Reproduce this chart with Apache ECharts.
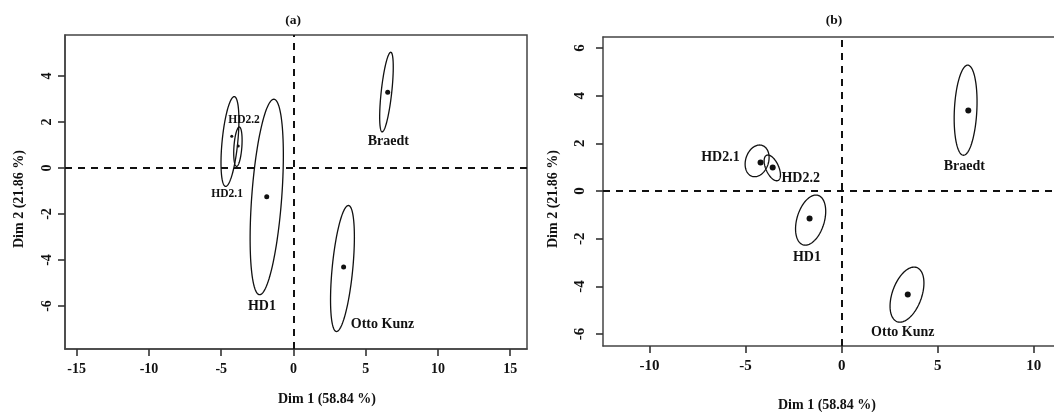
<!DOCTYPE html>
<html>
<head>
<meta charset="utf-8">
<script src="https://cdn.jsdelivr.net/npm/echarts@6/dist/echarts.min.js"></script>
<style>
html,body{margin:0;padding:0;background:#fff;}
#chart{width:1054px;height:412px;}
</style>
</head>
<body>
<div id="chart"></div>
<script>
// ---------- data ----------
const groups = ['Braedt', 'HD2.1', 'HD2.2', 'HD1', 'Otto Kunz'];

// panel (a): individual means
const aPointX = [6.52, -4.27, -3.82, -1.85, 3.47];
const aPointY = [3.29, 1.38, 0.95, -1.25, -4.30];
// panel (a): confidence ellipses (centre, top-point offset, half width)
const aEllCX = [6.435, -4.395, -3.845, -1.85, 3.39];
const aEllCY = [3.30, 1.15, 0.925, -1.26, -4.37];
const aEllAX = [0.295, 0.295, 0.095, 0.49, 0.41];
const aEllAY = [1.73, 1.95, 0.855, 4.25, 2.74];
const aEllBX = [0.366, 0.545, 0.274, 1.04, 0.716];
// panel (a): label anchors
const aLabelX = [6.56, -4.59, -3.42, -2.18, 6.16];
const aLabelY = [1.14, -1.14, 2.07, -6.02, -6.78];

// panel (b)
const bPointX = [6.59, -4.22, -3.59, -1.67, 3.44];
const bPointY = [3.38, 1.20, 0.99, -1.15, -4.34];
const bEllCX = [6.45, -4.40, -3.61, -1.615, 3.40];
const bEllCY = [3.39, 1.265, 0.97, -1.22, -4.345];
const bEllAX = [0.11, 0.13, -0.23, 0.275, 0.37];
const bEllAY = [1.89, 0.665, 0.54, 1.05, 1.155];
const bEllBX = [0.585, 0.61, 0.357, 0.735, 0.80];
const bLabelX = [6.38, -6.31, -2.13, -1.81, 3.18];
const bLabelY = [1.04, 1.43, 0.55, -2.77, -5.92];

// ticks
const aXTicks = [-15, -10, -5, 0, 5, 10, 15];
const aYTicks = [-6, -4, -2, 0, 2, 4];
const bXTicks = [-10, -5, 0, 5, 10];
const bYTicks = [-6, -4, -2, 0, 2, 4, 6];

const xTitle = 'Dim 1 (58.84 %)';
const yTitle = 'Dim 2 (21.86 %)';
const panelTitles = ['(a)', '(b)'];

// ---------- chart ----------
const FONT = "'Liberation Serif', 'DejaVu Serif', serif";
const INK = '#111';
const BOX = { color: '#444', width: 1.5 };

function xAxis(gi, min, max, ticks, fs) {
  return {
    gridIndex: gi, type: 'value', min: min, max: max,
    splitLine: { show: false },
    axisLine: { show: true, onZero: false, lineStyle: BOX },
    axisTick: { show: true, customValues: ticks, length: 7, lineStyle: { color: '#333', width: 1.6 } },
    axisLabel: { customValues: ticks, margin: 13, fontSize: fs, fontWeight: 'bold', fontFamily: FONT, color: INK }
  };
}
function yAxis(gi, min, max, ticks, fs, margin) {
  return {
    gridIndex: gi, type: 'value', min: min, max: max,
    splitLine: { show: false },
    axisLine: { show: true, onZero: false, lineStyle: BOX },
    axisTick: { show: true, customValues: ticks, length: 7, lineStyle: { color: '#333', width: 1.6 } },
    axisLabel: { customValues: ticks, rotate: 90, margin: margin, fontSize: fs, fontWeight: 'bold', fontFamily: FONT, color: INK }
  };
}
function topLine(gi, min, max) {
  return {
    gridIndex: gi, type: 'value', position: 'top', min: min, max: max,
    splitLine: { show: false },
    axisLine: { show: true, onZero: false, lineStyle: BOX },
    axisTick: { show: false }, axisLabel: { show: false }
  };
}

function ellipseSeries(idx, cx, cy, ax, ay, bx) {
  return {
    type: 'custom', xAxisIndex: idx, yAxisIndex: idx, silent: true,
    encode: { x: 0, y: 1 },
    data: cx.map((v, i) => [v, cy[i], ax[i], ay[i], bx[i]]),
    renderItem: function (params, api) {
      const c0 = api.value(0), c1 = api.value(1), a0 = api.value(2), a1 = api.value(3), b0 = api.value(4);
      const pts = [];
      const n = 120;
      for (let k = 0; k < n; k++) {
        const t = 2 * Math.PI * k / n;
        pts.push(api.coord([c0 + a0 * Math.cos(t) + b0 * Math.sin(t), c1 + a1 * Math.cos(t)]));
      }
      return { type: 'polygon', shape: { points: pts }, style: { fill: 'none', stroke: INK, lineWidth: 1.3 } };
    }
  };
}

function pointSeries(idx, xs, ys, sizeFn) {
  return {
    type: 'scatter', xAxisIndex: idx, yAxisIndex: idx, silent: true,
    data: xs.map((v, i) => ({ name: groups[i], value: [v, ys[i]], symbolSize: sizeFn(groups[i]) })),
    itemStyle: { color: INK, opacity: 1 },
    markLine: {
      silent: true, symbol: 'none', animation: false,
      label: { show: false },
      lineStyle: { color: INK, type: [7, 6], width: 2 },
      data: [{ xAxis: 0 }, { yAxis: 0 }]
    }
  };
}

function labelSeries(idx, xs, ys, sizeFn) {
  return {
    type: 'custom', xAxisIndex: idx, yAxisIndex: idx, silent: true,
    encode: { x: 0, y: 1 },
    data: xs.map((v, i) => [v, ys[i], i]),
    renderItem: function (params, api) {
      const p = api.coord([api.value(0), api.value(1)]);
      const name = groups[api.value(2)];
      return {
        type: 'text', x: p[0], y: p[1],
        style: { text: name, fill: INK, fontSize: sizeFn(name), fontWeight: 'bold', fontFamily: FONT, align: 'center', verticalAlign: 'middle' }
      };
    }
  };
}

function txt(text, x, y, fs, rot) {
  return {
    type: 'text', x: x, y: y, rotation: rot || 0,
    style: { text: text, fill: INK, fontSize: fs, fontWeight: 'bold', fontFamily: FONT, align: 'center', verticalAlign: 'middle' }
  };
}

const option = {
  animation: false,
  backgroundColor: '#fff',
  grid: [
    { left: 65, top: 35, width: 462, height: 314, show: true, borderColor: '#444', borderWidth: 1.5, backgroundColor: 'transparent' },
    { left: 603, top: 37, width: 453, height: 309, show: false }
  ],
  xAxis: [
    xAxis(0, -15.81, 16.16, aXTicks, 14),
    xAxis(1, -12.42, 11.05, bXTicks, 15),
    topLine(1, -12.42, 11.05)
  ],
  yAxis: [
    yAxis(0, -7.87, 5.78, aYTicks, 14, 11),
    yAxis(1, -6.5, 6.46, bYTicks, 15, 15)
  ],
  series: [
    pointSeries(0, aPointX, aPointY, n => (n === 'HD2.1' || n === 'HD2.2') ? 3 : 5),
    ellipseSeries(0, aEllCX, aEllCY, aEllAX, aEllAY, aEllBX),
    labelSeries(0, aLabelX, aLabelY, n => (n === 'HD2.1' || n === 'HD2.2') ? 11.5 : 14),
    pointSeries(1, bPointX, bPointY, n => 6),
    ellipseSeries(1, bEllCX, bEllCY, bEllAX, bEllAY, bEllBX),
    labelSeries(1, bLabelX, bLabelY, n => 14)
  ],
  graphic: [
    txt(panelTitles[0], 293, 21, 13.5),
    txt(panelTitles[1], 834, 21, 13.5),
    txt(xTitle, 327, 399, 14),
    txt(xTitle, 827, 405, 14),
    txt(yTitle, 19, 199, 14, Math.PI / 2),
    txt(yTitle, 553, 199, 14, Math.PI / 2)
  ]
};

const chart = echarts.init(document.getElementById('chart'), null, { renderer: 'canvas' });
chart.setOption(option);
</script>
</body>
</html>
